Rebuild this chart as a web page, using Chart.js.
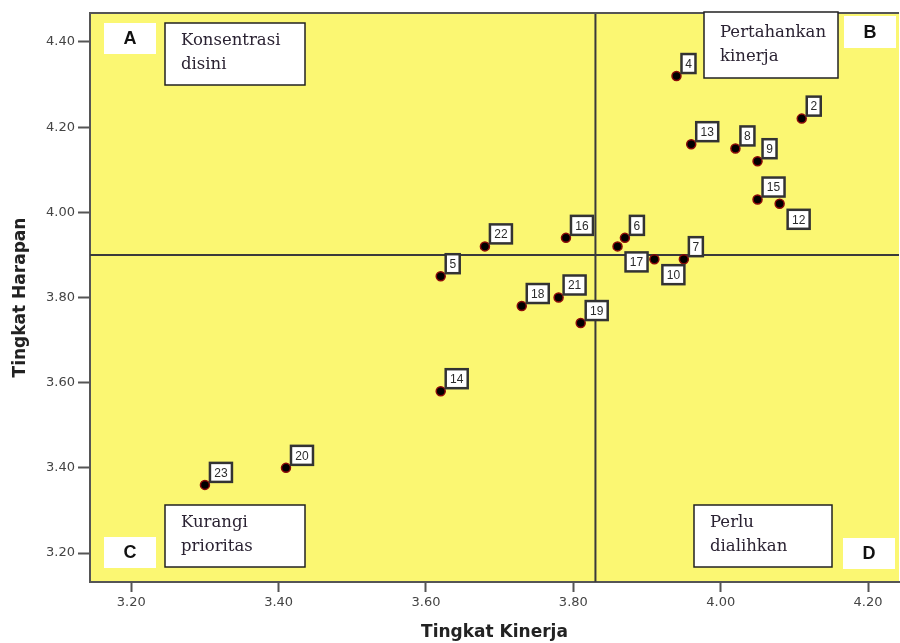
<!DOCTYPE html>
<html>
<head>
<meta charset="utf-8">
<script src="https://cdn.jsdelivr.net/npm/chart.js@4"></script>
<style>
  body { margin: 0; background: #fff; }
  canvas { display: block; }
</style>
</head>
<body>
<canvas id="chart" width="900" height="643"></canvas>
<script>
// data
const ids = ["2", "4", "5", "6", "7", "8", "9", "10", "12", "13", "14", "15", "16", "17", "18", "19", "20", "21", "22", "23"];
const kinerja = [4.11, 3.94, 3.62, 3.87, 3.95, 4.02, 4.05, 3.91, 4.08, 3.96, 3.62, 4.05, 3.79, 3.86, 3.73, 3.81, 3.41, 3.78, 3.68, 3.30];
const harapan = [4.22, 4.32, 3.85, 3.94, 3.89, 4.15, 4.12, 3.89, 4.02, 4.16, 3.58, 4.03, 3.94, 3.92, 3.78, 3.74, 3.40, 3.80, 3.92, 3.36];

const xTicks = [3.2, 3.4, 3.6, 3.8, 4.0, 4.2];
const yTicks = [3.2, 3.4, 3.6, 3.8, 4.0, 4.2, 4.4];
const xRange = [3.144, 4.242];
const yRange = [3.132, 4.468];

const meanKinerja = 3.83;
const meanHarapan = 3.90;

// labels that sit below-right of their point
const labelsBelow = ["10", "12", "17"];

const quadrantLetters = [
  { text: "A", box: [104, 23, 52, 31] },
  { text: "B", box: [844, 16, 52, 32] },
  { text: "C", box: [104, 537, 52, 31] },
  { text: "D", box: [843, 538, 52, 31] }
];
const quadrantNotes = [
  { lines: ["Konsentrasi", "disini"], box: [165, 23, 140, 62] },
  { lines: ["Pertahankan", "kinerja"], box: [704, 12, 134, 66] },
  { lines: ["Kurangi", "prioritas"], box: [165, 505, 140, 62] },
  { lines: ["Perlu", "dialihkan"], box: [694, 505, 138, 62] }
];

const points = ids.map((id, i) => ({ x: kinerja[i], y: harapan[i] }));

const plotBg = {
  id: "plotBg",
  beforeDraw(chart) {
    const { ctx, chartArea: a } = chart;
    ctx.save();
    ctx.fillStyle = "#fff";
    ctx.fillRect(0, 0, chart.width, chart.height);
    ctx.fillStyle = "#fbf772";
    ctx.fillRect(a.left, a.top, a.right - a.left, a.bottom - a.top);
    ctx.restore();
  },
  afterDraw(chart) {
    const { ctx, chartArea: a } = chart;
    ctx.save();
    // top edge only, the right side runs off the picture
    ctx.strokeStyle = "#555";
    ctx.lineWidth = 2;
    ctx.beginPath();
    ctx.moveTo(a.left, a.top);
    ctx.lineTo(a.right, a.top);
    ctx.stroke();

    quadrantLetters.forEach(q => {
      const [x, y, w, h] = q.box;
      ctx.fillStyle = "#fff";
      ctx.fillRect(x, y, w, h);
      ctx.fillStyle = "#111";
      ctx.font = "bold 18px 'Liberation Sans', Arial, sans-serif";
      ctx.textAlign = "center";
      ctx.textBaseline = "middle";
      ctx.fillText(q.text, x + w / 2, y + h / 2 + 1);
    });

    quadrantNotes.forEach(n => {
      const [x, y, w, h] = n.box;
      ctx.fillStyle = "#fff";
      ctx.fillRect(x, y, w, h);
      ctx.strokeStyle = "#222";
      ctx.lineWidth = 1.5;
      ctx.strokeRect(x, y, w, h);
      ctx.fillStyle = "#2a2232";
      ctx.font = "16.5px 'DejaVu Serif', serif";
      ctx.textAlign = "left";
      ctx.textBaseline = "middle";
      const top = y + (h > 63 ? 21 : 18);
      n.lines.forEach((line, k) => ctx.fillText(line, x + 16, top + k * 24));
    });
    ctx.restore();
  }
};

const pointLabels = {
  id: "pointLabels",
  afterDatasetsDraw(chart) {
    const { ctx } = chart;
    const meta = chart.getDatasetMeta(0);
    ctx.save();
    ctx.font = "12px 'Liberation Sans', Arial, sans-serif";
    ctx.textAlign = "center";
    ctx.textBaseline = "middle";
    meta.data.forEach((el, i) => {
      const id = ids[i];
      const w = id.length > 1 ? 22 : 14;
      const h = 19;
      let bx, by;
      if (labelsBelow.includes(id)) {
        bx = el.x + 8;
        by = el.y + 6;
      } else {
        bx = el.x + 5;
        by = el.y - 3 - h;
      }
      ctx.fillStyle = "#fff";
      ctx.fillRect(bx, by, w, h);
      ctx.strokeStyle = "#333";
      ctx.lineWidth = 2.5;
      ctx.strokeRect(bx, by, w, h);
      ctx.fillStyle = "#2a2a2a";
      ctx.fillText(id, bx + w / 2, by + h / 2 + 1);
    });
    ctx.restore();
  }
};

new Chart(document.getElementById("chart"), {
  type: "scatter",
  data: {
    datasets: [
      {
        data: points,
        pointRadius: 4.5,
        pointHoverRadius: 4.5,
        backgroundColor: "#000",
        borderColor: "#8b0a0a",
        borderWidth: 1.5
      },
      {
        type: "line",
        data: [{ x: meanKinerja, y: yRange[0] }, { x: meanKinerja, y: yRange[1] }],
        borderColor: "#3a3a3a",
        borderWidth: 2,
        pointRadius: 0
      },
      {
        type: "line",
        data: [{ x: xRange[0], y: meanHarapan }, { x: xRange[1], y: meanHarapan }],
        borderColor: "#3a3a3a",
        borderWidth: 2,
        pointRadius: 0
      }
    ]
  },
  options: {
    responsive: false,
    animation: false,
    layout: { autoPadding: false, padding: { top: 13, right: 1, left: 0, bottom: 0 } },
    plugins: { legend: { display: false }, tooltip: { enabled: false } },
    scales: {
      x: {
        type: "linear",
        min: xRange[0],
        max: xRange[1],
        afterBuildTicks: s => { s.ticks = xTicks.map(v => ({ value: v })); },
        afterFit: s => { s.height = 61; s.paddingLeft = 0; s.paddingRight = 0; },
        grid: { drawOnChartArea: false, tickLength: 10, tickWidth: 2, tickColor: "#555" },
        border: { color: "#555", width: 2 },
        ticks: {
          color: "#444",
          padding: 3,
          font: { size: 13, family: "'DejaVu Sans', sans-serif" },
          callback: v => v.toFixed(2)
        },
        title: {
          display: true,
          text: "Tingkat Kinerja",
          color: "#222",
          padding: { top: 0, bottom: 0 },
          font: { size: 17, weight: "bold", family: "'DejaVu Sans', sans-serif" }
        }
      },
      y: {
        type: "linear",
        min: yRange[0],
        max: yRange[1],
        afterBuildTicks: s => { s.ticks = yTicks.map(v => ({ value: v })); },
        afterFit: s => { s.width = 90; s.paddingTop = 0; s.paddingBottom = 0; },
        grid: { drawOnChartArea: false, tickLength: 12, tickWidth: 2, tickColor: "#555" },
        border: { color: "#555", width: 2 },
        ticks: {
          color: "#444",
          padding: 3,
          font: { size: 13, family: "'DejaVu Sans', sans-serif" },
          callback: v => v.toFixed(2)
        },
        title: {
          display: true,
          text: "Tingkat Harapan",
          color: "#222",
          padding: { top: 10, bottom: 0 },
          font: { size: 17, weight: "bold", family: "'DejaVu Sans', sans-serif" }
        }
      }
    }
  },
  plugins: [plotBg, pointLabels]
});
</script>
</body>
</html>
